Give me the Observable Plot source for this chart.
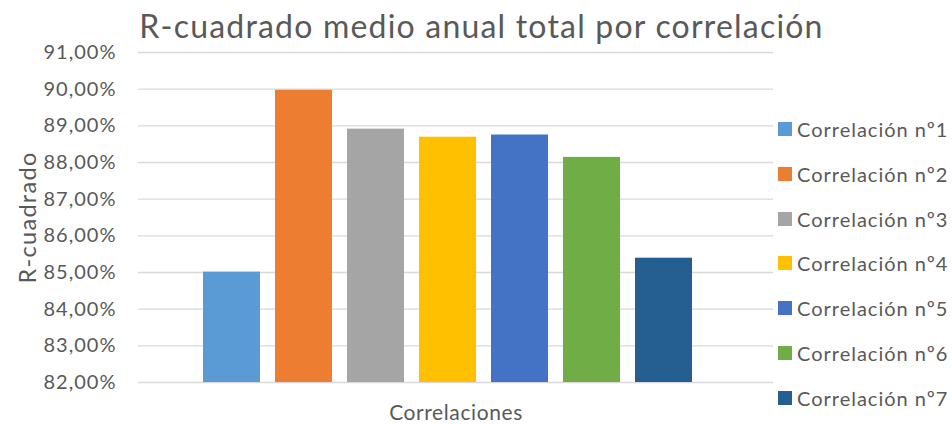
<!DOCTYPE html>
<html>
<head>
<meta charset="utf-8">
<script src="https://cdn.jsdelivr.net/npm/d3@7"></script>
<script src="https://cdn.jsdelivr.net/npm/@observablehq/plot@0.6"></script>
<style>
  html, body { margin: 0; padding: 0; background: #fff; }
  #wrap { position: relative; width: 952px; height: 425px; font-family: Lato, "Open Sans", sans-serif; color: #595959; }
  #legend { position: absolute; left: 778px; top: 106.6px; }
  .item { display: flex; align-items: center; height: 44.8px; font-size: 20px; letter-spacing: 1px; color: #595959; white-space: nowrap; }
  .sw { width: 14px; height: 14px; margin-right: 5px; flex: none; }
  .ttl text { letter-spacing: 1.2px; }
  .ylab text { letter-spacing: 1.3px; }
  .xlab text { letter-spacing: 0.6px; }
  .ytick text { letter-spacing: 1px; }
</style>
</head>
<body>
<div id="wrap"></div>
<script>
const series = ["Correlación nº1", "Correlación nº2", "Correlación nº3", "Correlación nº4", "Correlación nº5", "Correlación nº6", "Correlación nº7"];
const values = [0.8501, 0.8997, 0.8891, 0.8869, 0.8875, 0.8814, 0.8539];
const colors = ["#5B9BD5", "#ED7D31", "#A5A5A5", "#FFC000", "#4472C4", "#70AD47", "#255E91"];
const yTicks = [0.82, 0.83, 0.84, 0.85, 0.86, 0.87, 0.88, 0.89, 0.90, 0.91];
const title = "R-cuadrado medio anual total por correlación";
const yLabel = "R-cuadrado";
const xLabel = "Correlaciones";

const data = series.map((s, i) => ({serie: s, value: values[i]}));
const fmt = d => d3.format(".2f")(d * 100).replace(".", ",") + "%";

const chart = Plot.plot({
  width: 952,
  height: 425,
  marginTop: 52,
  marginBottom: 43,
  marginLeft: 138,
  marginRight: 179,
  style: {fontFamily: "Lato, 'Open Sans', sans-serif", color: "#595959", background: "#fff"},
  x: {domain: series, range: [138, 756.7], paddingInner: 0.213, paddingOuter: 0.88, axis: null},
  y: {domain: [0.82, 0.91], axis: null},
  color: {domain: series, range: colors},
  marks: [
    Plot.ruleY(yTicks, {stroke: "#D9D9D9", strokeWidth: 1.3}),
    Plot.barY(data, {x: "serie", y1: 0.82, y2: "value", fill: "serie"}),
    Plot.text(yTicks, {y: d => d, text: fmt, frameAnchor: "left", dx: -22, textAnchor: "end", fontSize: 20, fill: "#595959", className: "ytick"}),
    Plot.text([yLabel], {frameAnchor: "left", textAnchor: "middle", lineAnchor: "middle", dx: -110, rotate: -90, text: d => d, fontSize: 23.5, fill: "#595959", className: "ylab"}),
    Plot.text([xLabel], {frameAnchor: "bottom", lineAnchor: "middle", dy: 31, text: d => d, fontSize: 21, fill: "#595959", className: "xlab"}),
    Plot.text([title], {frameAnchor: "top", lineAnchor: "middle", dx: 25.5, dy: -25, text: d => d, fontSize: 32, fill: "#595959", className: "ttl"})
  ]
});
const wrap = document.getElementById("wrap");
wrap.appendChild(chart);
const legend = document.createElement("div");
legend.id = "legend";
series.forEach((s, i) => {
  const it = document.createElement("div");
  it.className = "item";
  const sw = document.createElement("span");
  sw.className = "sw";
  sw.style.background = colors[i];
  const tx = document.createElement("span");
  tx.textContent = s;
  it.appendChild(sw); it.appendChild(tx);
  legend.appendChild(it);
});
wrap.appendChild(legend);
</script>
</body>
</html>
